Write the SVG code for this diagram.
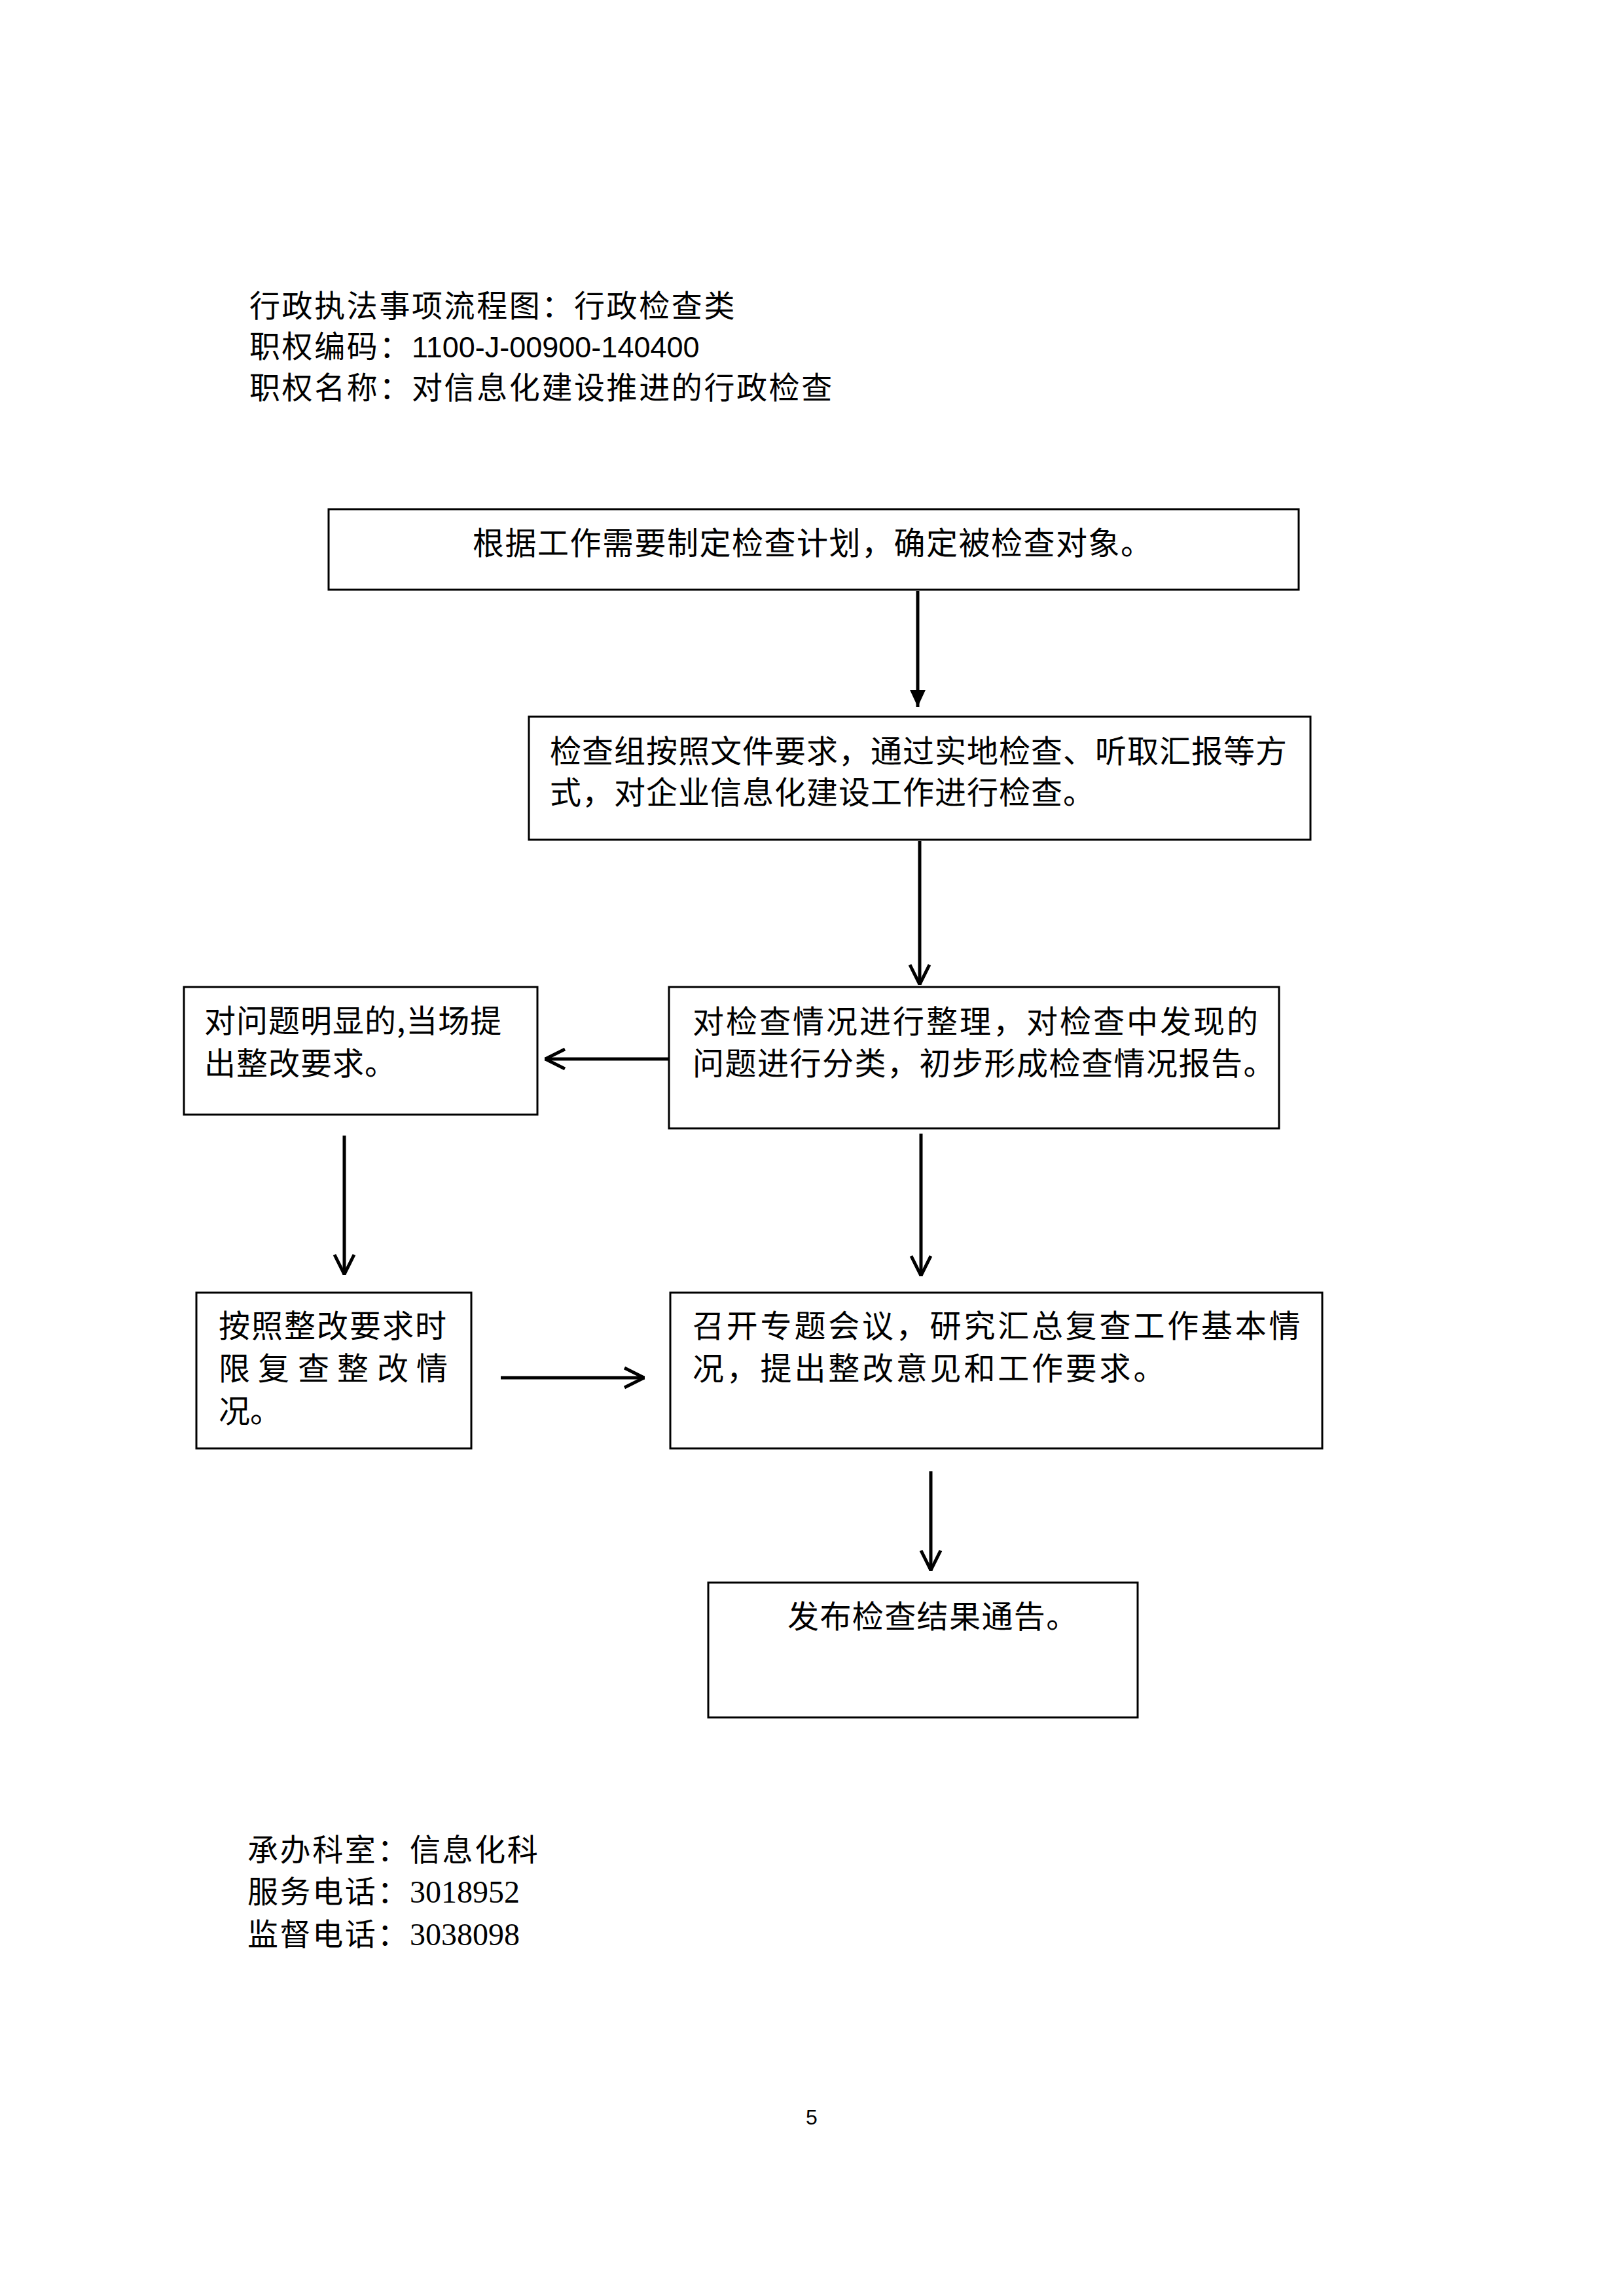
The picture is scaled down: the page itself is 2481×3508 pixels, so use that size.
<svg xmlns="http://www.w3.org/2000/svg" width="2481" height="3508" viewBox="0 0 2481 3508">
<style>
.bg{fill:#fff}
.box{fill:#fff;stroke:#000;stroke-width:3}
.t{font-family:"Noto Sans CJK SC","Liberation Serif",sans-serif;font-size:48px;fill:#000}
.hd{font-family:"Noto Sans CJK SC","Liberation Sans",sans-serif;font-size:47px;letter-spacing:2.6px;fill:#000}
.num{font-family:"Liberation Sans",Arial,sans-serif;font-size:45px;letter-spacing:0}
.ft{font-family:"Noto Sans CJK SC","Liberation Serif",serif;font-size:47px;letter-spacing:2.6px;fill:#000}
.fnum{font-family:"Liberation Serif","Times New Roman",serif;font-size:48px;letter-spacing:0}
.pg{font-family:"Liberation Sans",Arial,sans-serif;font-size:32px;fill:#000}
.ln{stroke:#000;stroke-width:5;fill:none}
</style>
<defs>
<marker id="solid" markerUnits="userSpaceOnUse" markerWidth="40" markerHeight="40" viewBox="-40 -20 40 40" refX="0" refY="0" orient="auto">
<path d="M-26,-12 L0,0 L-26,12 Z" fill="#000"/>
</marker>
<marker id="open" markerUnits="userSpaceOnUse" markerWidth="40" markerHeight="40" viewBox="-40 -20 40 40" refX="0" refY="0" orient="auto">
<path d="M-31,-15 L-1,0 L-31,15" fill="none" stroke="#000" stroke-width="5"/>
</marker>
</defs>
<rect class="bg" x="0" y="0" width="2481" height="3508"/>

<g id="header">
<text class="hd" x="381" y="484">行政执法事项流程图：行政检查类</text>
<text class="hd" x="381" y="546">职权编码：<tspan class="num">1100-J-00900-140400</tspan></text>
<text class="hd" x="381" y="609">职权名称：对信息化建设推进的行政检查</text>
</g>

<g id="connectors">
<line class="ln" x1="1402" y1="903" x2="1402" y2="1080" marker-end="url(#solid)"/>
<line class="ln" x1="1405" y1="1285" x2="1405" y2="1505" marker-end="url(#open)"/>
<line class="ln" x1="1022" y1="1618" x2="832" y2="1618" marker-end="url(#open)"/>
<line class="ln" x1="526" y1="1735" x2="526" y2="1948" marker-end="url(#open)"/>
<line class="ln" x1="1407" y1="1732" x2="1407" y2="1950" marker-end="url(#open)"/>
<line class="ln" x1="765" y1="2105" x2="985" y2="2105" marker-end="url(#open)"/>
<line class="ln" x1="1422" y1="2248" x2="1422" y2="2400" marker-end="url(#open)"/>
</g>

<g id="n1">
<rect class="box" x="502" y="778" width="1482" height="123"/>
<text class="t" x="722" y="847" letter-spacing="1.5">根据工作需要制定检查计划，确定被检查对象。</text>
</g>

<g id="n2">
<rect class="box" x="808" y="1095" width="1194" height="188"/>
<text class="t" x="840" y="1165" letter-spacing="1">检查组按照文件要求，通过实地检查、听取汇报等方</text>
<text class="t" x="840" y="1228" letter-spacing="1">式，对企业信息化建设工作进行检查。</text>
</g>

<g id="n3">
<rect class="box" x="1022" y="1508" width="932" height="216"/>
<text class="t" x="1058" y="1578" letter-spacing="3">对检查情况进行整理，对检查中发现的</text>
<text class="t" x="1058" y="1642" letter-spacing="1.5">问题进行分类，初步形成检查情况报告。</text>
</g>

<g id="n4">
<rect class="box" x="281" y="1508" width="540" height="195"/>
<text class="t" x="312" y="1577" letter-spacing="1">对问题明显的,当场提</text>
<text class="t" x="312" y="1642" letter-spacing="1">出整改要求。</text>
</g>

<g id="n5">
<rect class="box" x="300" y="1975" width="420" height="238"/>
<text class="t" x="334" y="2043" letter-spacing="2">按照整改要求时</text>
<text class="t" x="334 394 455 515 576 636" y="2108">限复查整改情</text>
<text class="t" x="334" y="2173">况。</text>
</g>

<g id="n6">
<rect class="box" x="1024" y="1975" width="996" height="238"/>
<text class="t" x="1058" y="2043" letter-spacing="3.8">召开专题会议，研究汇总复查工作基本情</text>
<text class="t" x="1058" y="2108" letter-spacing="3.8">况，提出整改意见和工作要求。</text>
</g>

<g id="n7">
<rect class="box" x="1082" y="2418" width="656" height="206"/>
<text class="t" x="1203" y="2487" letter-spacing="1.4">发布检查结果通告。</text>
</g>

<g id="footer">
<text class="ft" x="378" y="2843">承办科室：信息化科</text>
<text class="ft" x="378" y="2907">服务电话：<tspan class="fnum">3018952</tspan></text>
<text class="ft" x="378" y="2972">监督电话：<tspan class="fnum">3038098</tspan></text>
<text class="pg" x="1240" y="3246" text-anchor="middle">5</text>
</g>
</svg>
